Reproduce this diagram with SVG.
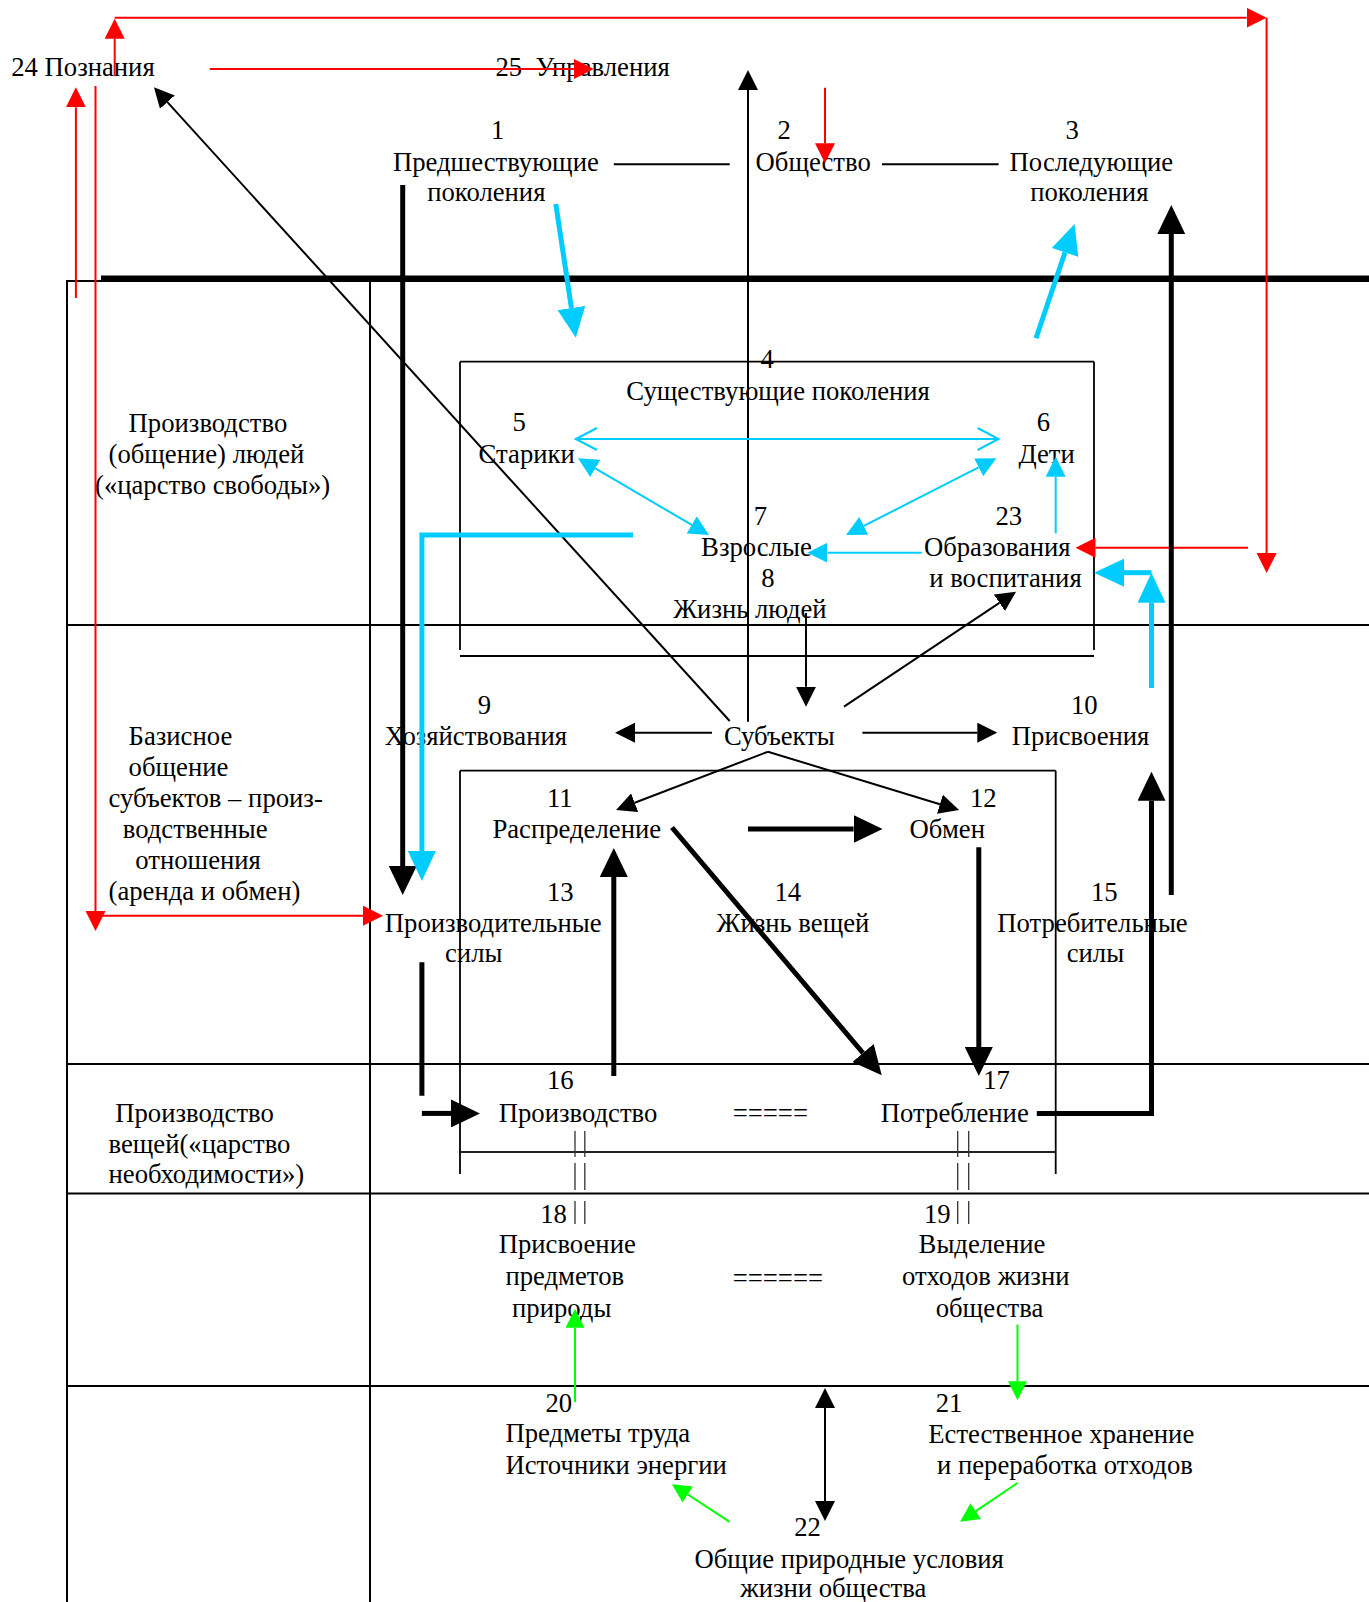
<svg xmlns="http://www.w3.org/2000/svg" width="1369" height="1602" viewBox="0 0 1369 1602">
<style>
text { font-family: "Liberation Serif", "Times New Roman", serif; font-size: 26.7px; fill: #000; }
.tbl { stroke: #000; stroke-width: 2; fill: none; }
.box { stroke: #000; stroke-width: 1.8; fill: none; }
.red { stroke: #FF0000; stroke-width: 2; fill: none; }
.blk { stroke: #000; stroke-width: 2; fill: none; }
.thick { stroke: #000; stroke-width: 5; fill: none; }
.cy { stroke: #00CCFF; stroke-width: 5; fill: none; }
.cyt { stroke: #00CCFF; stroke-width: 2; fill: none; }
.gr { stroke: #00FF00; stroke-width: 2; fill: none; }
.pipe { stroke: #333; stroke-width: 1.3; }
</style>
<defs>
<marker id="mR" viewBox="0 0 20 20" refX="0" refY="10" markerWidth="20" markerHeight="20" markerUnits="userSpaceOnUse" orient="auto-start-reverse"><path d="M0,0 L20,10 L0,20 z" fill="#FF0000"/></marker>
<marker id="mK" viewBox="0 0 20 20" refX="0" refY="10" markerWidth="20" markerHeight="20" markerUnits="userSpaceOnUse" orient="auto-start-reverse"><path d="M0,0 L20,10 L0,20 z" fill="#000"/></marker>
<marker id="mKT" viewBox="0 0 29 28" refX="0" refY="14" markerWidth="29" markerHeight="28" markerUnits="userSpaceOnUse" orient="auto-start-reverse"><path d="M0,0 L29,14 L0,28 z" fill="#000"/></marker>
<marker id="mC" viewBox="0 0 30 28" refX="0" refY="14" markerWidth="30" markerHeight="28" markerUnits="userSpaceOnUse" orient="auto-start-reverse"><path d="M0,0 L30,14 L0,28 z" fill="#00CCFF"/></marker>
<marker id="mCs" viewBox="0 0 20 20" refX="0" refY="10" markerWidth="20" markerHeight="20" markerUnits="userSpaceOnUse" orient="auto-start-reverse"><path d="M0,0 L20,10 L0,20 z" fill="#00CCFF"/></marker>
<marker id="mCh" viewBox="0 0 24 26" refX="22" refY="13" markerWidth="24" markerHeight="26" markerUnits="userSpaceOnUse" orient="auto-start-reverse"><path d="M1,2 L22,13 L1,24" fill="none" stroke="#00CCFF" stroke-width="2"/></marker>
<marker id="mG" viewBox="0 0 19 19" refX="0" refY="9.5" markerWidth="19" markerHeight="19" markerUnits="userSpaceOnUse" orient="auto-start-reverse"><path d="M0,0 L19,9.5 L0,19 z" fill="#00FF00"/></marker>
</defs>

<g id="table">
<line class="tbl" x1="67" y1="281" x2="1369" y2="281"/>
<line x1="101" y1="278" x2="1369" y2="278" stroke="#000" stroke-width="5"/>
<line class="tbl" x1="67" y1="280" x2="67" y2="1602"/>
<line class="tbl" x1="370" y1="280" x2="370" y2="1602"/>
<line class="tbl" x1="67" y1="625" x2="1369" y2="625"/>
<line class="tbl" x1="67" y1="1064" x2="1369" y2="1064"/>
<line class="tbl" x1="67" y1="1193.5" x2="1369" y2="1193.5"/>
<line class="tbl" x1="67" y1="1386" x2="1369" y2="1386"/>
</g>

<g id="row-people-label">
<text x="128.6" y="431.7">Производство</text>
<text x="108.5" y="462.7">(общение) людей</text>
<text x="95" y="494">(«царство свободы»)</text>
</g>
<g id="row-basic-label">
<text x="128.6" y="745">Базисное</text>
<text x="128.6" y="776">общение</text>
<text x="108.5" y="806.7">субъектов – произ-</text>
<text x="122.8" y="837.7">водственные</text>
<text x="135.3" y="869.3">отношения</text>
<text x="108.5" y="900">(аренда и обмен)</text>
</g>
<g id="row-things-label">
<text x="115.2" y="1122.2">Производство</text>
<text x="108.5" y="1152.8">вещей(«царство</text>
<text x="108.5" y="1183.1">необходимости»)</text>
</g>

<g id="n24"><text x="11.2" y="76">24 Познания</text></g>
<g id="n25"><text x="495.5" y="76" xml:space="preserve" style="white-space:pre">25  Управления</text></g>
<g id="n1"><text x="491" y="139.3">1</text><text x="392.9" y="170.7">Предшествующие</text><text x="427.2" y="201">поколения</text></g>
<g id="n2"><text x="777.6" y="139.3">2</text><text x="755.6" y="170.7">Общество</text></g>
<g id="n3"><text x="1065.4" y="139.3">3</text><text x="1009.6" y="170.7">Последующие</text><text x="1030.2" y="201">поколения</text></g>

<g id="n4">
<line class="box" x1="460" y1="361.7" x2="1094" y2="361.7"/>
<line class="box" x1="460" y1="361.7" x2="460" y2="650"/>
<line class="box" x1="1094" y1="361.7" x2="1094" y2="650"/>
<line class="box" x1="460" y1="656" x2="1094" y2="656"/>
<text x="760.4" y="367.7">4</text>
<text x="626.3" y="400">Существующие поколения</text>
</g>
<g id="n5"><text x="512.5" y="431">5</text><text x="478.6" y="462.7">Старики</text></g>
<g id="n6"><text x="1036.8" y="431">6</text><text x="1018.4" y="462.7">Дети</text></g>
<g id="n7"><text x="753.8" y="525">7</text><text x="701.1" y="555.7">Взрослые</text></g>
<g id="n23"><text x="995.5" y="525">23</text><text x="923.9" y="555.7">Образования</text><text x="929.2" y="587.3">и воспитания</text></g>
<g id="n8"><text x="761.3" y="587.3">8</text><text x="673.2" y="618.3">Жизнь людей</text></g>

<g id="n9"><text x="477.7" y="714">9</text><text x="384.8" y="745">Хозяйствования</text></g>
<g id="subjects"><text x="723.9" y="745">Субъекты</text></g>
<g id="n10"><text x="1071" y="714">10</text><text x="1011.8" y="745">Присвоения</text></g>

<g id="things-box">
<line class="box" x1="460" y1="770.7" x2="1055.7" y2="770.7"/>
<line class="box" x1="460" y1="770.7" x2="460" y2="1174"/>
<line class="box" x1="1055.7" y1="770.7" x2="1055.7" y2="1174"/>
<line x1="460" y1="1152" x2="1055.7" y2="1152" stroke="#222" stroke-width="2.2"/>
</g>
<g id="n11"><text x="546.9" y="806.7">11</text><text x="492.4" y="837.7">Распределение</text></g>
<g id="n12"><text x="970" y="806.7">12</text><text x="909.4" y="837.7">Обмен</text></g>
<g id="n13"><text x="546.9" y="900.7">13</text><text x="384.8" y="931.7">Производительные</text><text x="445" y="962.3">силы</text></g>
<g id="n14"><text x="774.5" y="900.7">14</text><text x="716.5" y="931.7">Жизнь вещей</text></g>
<g id="n15"><text x="1090.9" y="900.7">15</text><text x="997.3" y="931.7">Потребительные</text><text x="1066.7" y="962.3">силы</text></g>
<g id="n16"><text x="546.9" y="1088.7">16</text><text x="498.7" y="1122.2">Производство</text></g>
<g id="eq1"><text x="732.7" y="1121.5">=====</text></g>
<g id="n17"><text x="983.2" y="1088.7">17</text><text x="880.8" y="1122.2">Потребление</text></g>
<g id="n18"><text x="540.2" y="1222.5">18</text><text x="498.7" y="1253.1">Присвоение</text><text x="505.4" y="1285.2">предметов</text><text x="512" y="1316.9">природы</text></g>
<g id="eq2"><text x="732.7" y="1287">======</text></g>
<g id="n19"><text x="923.9" y="1222.5">19</text><text x="918.6" y="1253.1">Выделение</text><text x="901.9" y="1285.2">отходов жизни</text><text x="935.7" y="1316.9">общества</text></g>
<g id="n20"><text x="545.5" y="1411.6">20</text><text x="505.4" y="1441.8">Предметы труда</text><text x="505.4" y="1474.2">Источники энергии</text></g>
<g id="n21"><text x="935.7" y="1411.6">21</text><text x="928.3" y="1442.6">Естественное хранение</text><text x="937" y="1474.2">и переработка отходов</text></g>
<g id="n22"><text x="794.2" y="1535.8">22</text><text x="694.5" y="1567.5">Общие природные условия</text><text x="740.2" y="1597.4">жизни общества</text></g>

<g id="connectors">
<g class="pipe">
<line x1="575" y1="1131" x2="575" y2="1157"/><line x1="584.8" y1="1131" x2="584.8" y2="1157"/>
<line x1="575" y1="1163" x2="575" y2="1190"/><line x1="584.8" y1="1163" x2="584.8" y2="1190"/>
<line x1="575" y1="1201" x2="575" y2="1224"/><line x1="584.8" y1="1201" x2="584.8" y2="1224"/>
<line x1="957.7" y1="1131" x2="957.7" y2="1157"/><line x1="968.7" y1="1131" x2="968.7" y2="1157"/>
<line x1="957.7" y1="1163" x2="957.7" y2="1190"/><line x1="968.7" y1="1163" x2="968.7" y2="1190"/>
<line x1="957.7" y1="1201" x2="957.7" y2="1224"/><line x1="968.7" y1="1201" x2="968.7" y2="1224"/>
</g>
<line class="blk" x1="613.8" y1="164.3" x2="729.7" y2="164.3"/>
<line class="blk" x1="882" y1="164.3" x2="998.6" y2="164.3"/>

<line class="red" x1="114.7" y1="76" x2="114.7" y2="38.7" marker-end="url(#mR)"/>
<line class="red" x1="114.7" y1="17.7" x2="1246.6" y2="17.7" marker-end="url(#mR)"/>
<line class="red" x1="1266.6" y1="17.7" x2="1266.6" y2="553" marker-end="url(#mR)"/>
<line class="red" x1="1248" y1="547.7" x2="1095.5" y2="547.7" marker-end="url(#mR)"/>
<line class="red" x1="209.8" y1="69" x2="573.8" y2="69" marker-end="url(#mR)"/>
<line class="red" x1="75.9" y1="298" x2="75.9" y2="107.3" marker-end="url(#mR)"/>
<line class="red" x1="95.5" y1="86" x2="95.5" y2="911" marker-end="url(#mR)"/>
<line class="red" x1="95.5" y1="915.7" x2="363" y2="915.7" marker-end="url(#mR)"/>
<line class="red" x1="825" y1="87.7" x2="825" y2="143.3" marker-end="url(#mR)"/>

<line class="blk" x1="748" y1="721.7" x2="748" y2="90" marker-end="url(#mK)"/>
<line class="blk" x1="729.7" y1="721" x2="167.4" y2="102.1" marker-end="url(#mK)"/>
<line class="blk" x1="806" y1="613" x2="806" y2="686.7" marker-end="url(#mK)"/>
<line class="blk" x1="844" y1="706.7" x2="999.4" y2="602.8" marker-end="url(#mK)"/>
<line class="blk" x1="712" y1="732.7" x2="635" y2="732.7" marker-end="url(#mK)"/>
<line class="blk" x1="862.4" y1="732.7" x2="977.3" y2="732.7" marker-end="url(#mK)"/>
<line class="blk" x1="767.9" y1="751.7" x2="634.7" y2="802.8" marker-end="url(#mK)"/>
<line class="blk" x1="767.9" y1="751.7" x2="939.9" y2="804.2" marker-end="url(#mK)"/>
<line class="blk" x1="825" y1="1408" x2="825" y2="1501" marker-start="url(#mK)" marker-end="url(#mK)"/>

<line class="thick" x1="402.7" y1="185" x2="402.7" y2="866" marker-end="url(#mKT)"/>
<line class="thick" x1="1171.3" y1="895" x2="1171.3" y2="234" marker-end="url(#mKT)"/>
<line class="thick" x1="748" y1="829" x2="853.6" y2="829" marker-end="url(#mKT)"/>
<line class="thick" x1="672" y1="827.5" x2="863" y2="1053" marker-end="url(#mKT)"/>
<line class="thick" x1="613.8" y1="1076" x2="613.8" y2="877" marker-end="url(#mKT)"/>
<line class="thick" x1="978.8" y1="847.3" x2="978.8" y2="1047" marker-end="url(#mKT)"/>
<line class="thick" x1="421.9" y1="962.3" x2="421.9" y2="1095.8"/>
<line class="thick" x1="421.9" y1="1113.4" x2="451" y2="1113.4" marker-end="url(#mKT)"/>
<polyline class="thick" points="1036.8,1113.4 1151.5,1113.4 1151.5,800.7" marker-end="url(#mKT)"/>

<line class="cy" x1="555.8" y1="204" x2="571.4" y2="308" marker-end="url(#mC)"/>
<line class="cy" x1="1036" y1="338.3" x2="1065" y2="252.4" marker-end="url(#mC)"/>
<polyline class="cy" points="633,535 421.9,535 421.9,851" marker-end="url(#mC)"/>
<line class="cy" x1="1151.5" y1="688" x2="1151.5" y2="602.7" marker-end="url(#mC)"/>
<line class="cy" x1="1151.5" y1="572.7" x2="1124" y2="572.7" marker-end="url(#mC)"/>
<line class="cyt" x1="575.9" y1="439" x2="998.6" y2="439" marker-start="url(#mCh)" marker-end="url(#mCh)"/>
<line class="cyt" x1="595.3" y1="468.4" x2="691.7" y2="524.9" marker-start="url(#mCs)" marker-end="url(#mCs)"/>
<line class="cyt" x1="978.6" y1="467.4" x2="863.8" y2="525.9" marker-start="url(#mCs)" marker-end="url(#mCs)"/>
<line class="cyt" x1="921.7" y1="552.7" x2="827.4" y2="552.7" marker-end="url(#mCs)"/>
<line class="cyt" x1="1055.7" y1="533.3" x2="1055.7" y2="476.7" marker-end="url(#mCs)"/>

<line class="gr" x1="575" y1="1402" x2="575" y2="1327.8" marker-end="url(#mG)"/>
<line class="gr" x1="1017.5" y1="1324.6" x2="1017.5" y2="1381.3" marker-end="url(#mG)"/>
<line class="gr" x1="729.7" y1="1521.8" x2="687.8" y2="1494.5" marker-end="url(#mG)"/>
<line class="gr" x1="1017.5" y1="1483" x2="975.8" y2="1511.2" marker-end="url(#mG)"/>
</g>
</svg>
